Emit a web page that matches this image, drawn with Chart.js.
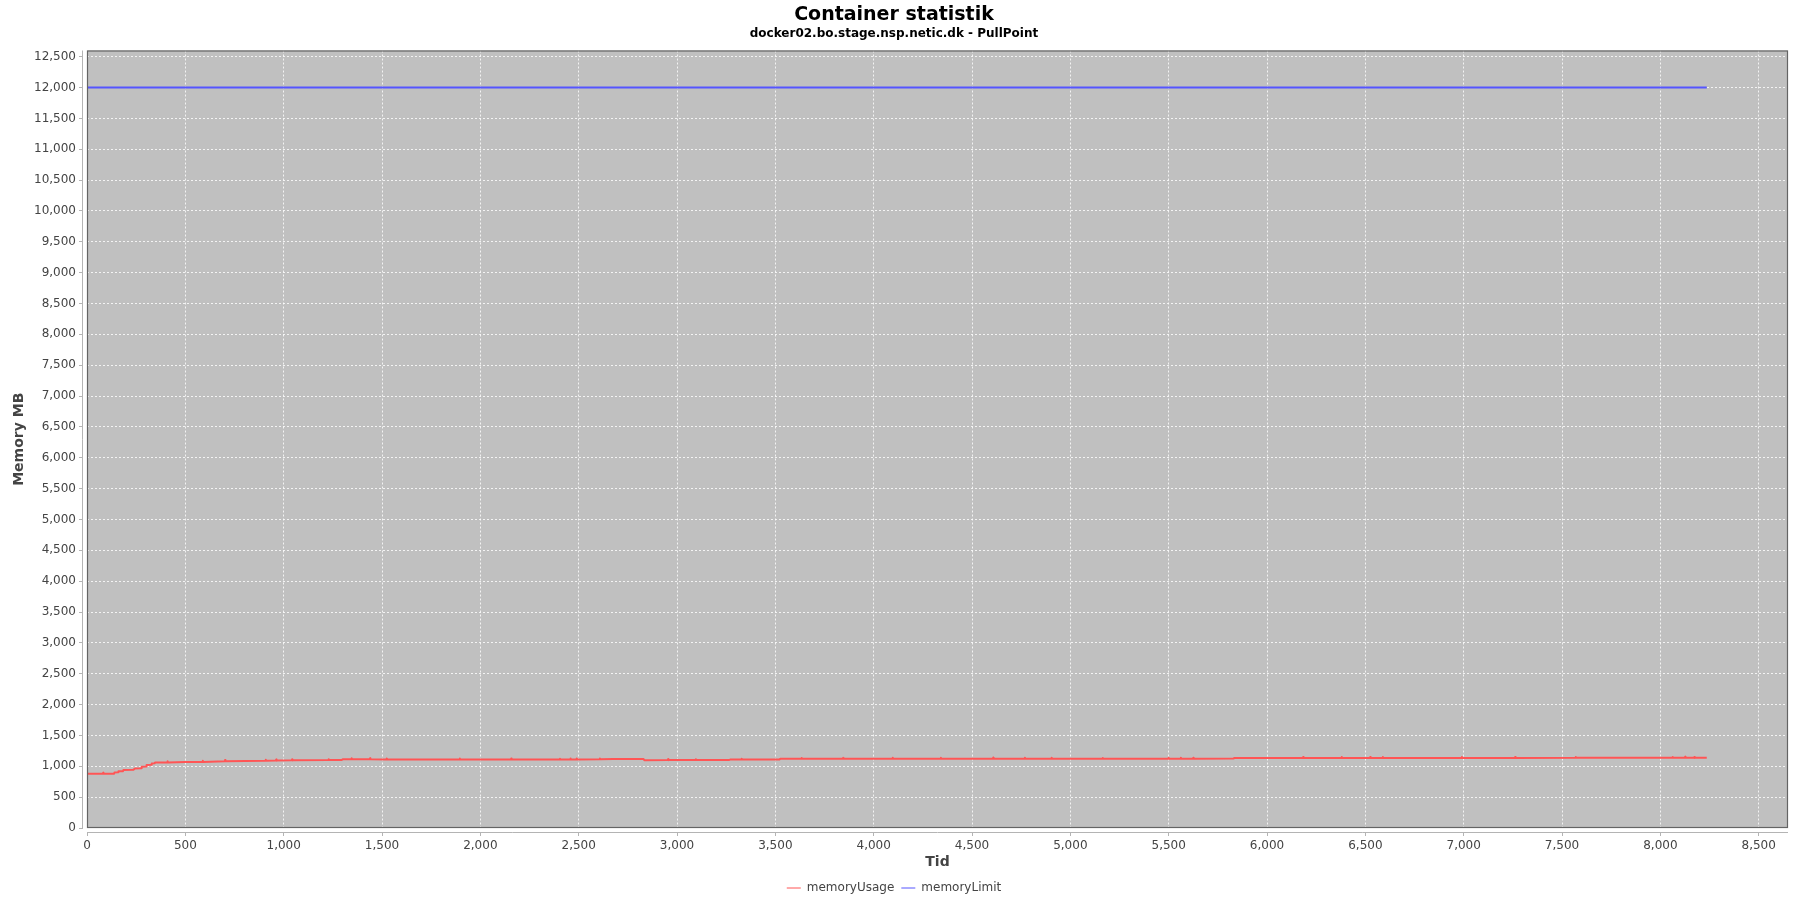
<!DOCTYPE html>
<html>
<head>
<meta charset="utf-8">
<script src="https://cdn.jsdelivr.net/npm/chart.js@4.4.1/dist/chart.umd.min.js"></script>
<style>
  html, body { margin: 0; padding: 0; background: #ffffff; }
  #wrap { width: 1800px; height: 900px; }
</style>
</head>
<body>
<div id="wrap"><canvas id="c" width="1800" height="900"></canvas></div>
<script>
// ---- data ----
const chartTitle = 'Container statistik';
const chartSubtitle = 'docker02.bo.stage.nsp.netic.dk - PullPoint';
const xTitle = 'Tid';
const yTitle = 'Memory MB';
const seriesNames = ['memoryUsage', 'memoryLimit'];

const usageTid = [
  0, 80, 82, 84, 137, 140, 158, 160, 183, 185, 235, 244, 276, 278, 300, 303, 327, 329, 344, 346,
  408, 410, 412, 500, 587, 589, 591, 700, 702, 704, 906, 908, 910, 960, 962, 964, 1041, 1043, 1045,
  1226, 1228, 1230, 1295, 1300, 1344, 1346, 1348, 1437, 1439, 1441, 1522, 1524, 1526,
  1894, 1896, 1898, 2155, 2157, 2159, 2403, 2405, 2407, 2456, 2458, 2460, 2488, 2490, 2492,
  2606, 2608, 2610, 2676, 2829, 2834, 2953, 2955, 2957, 3094, 3096, 3098, 3266, 3270,
  3326, 3328, 3330, 3521, 3525, 3631, 3633, 3635, 3843, 3845, 3847, 4094, 4096, 4098,
  4340, 4342, 4344, 4606, 4608, 4610, 4767, 4769, 4771, 4903, 4905, 4907, 5049,
  5163, 5165, 5167, 5498, 5500, 5502, 5560, 5562, 5564, 5623, 5625, 5627, 5829, 5835,
  6182, 6184, 6186, 6378, 6380, 6382, 6523, 6525, 6527, 6587, 6589, 6591, 6989, 6991, 6993,
  7260, 7262, 7264, 7568, 7570, 7572, 8061, 8063, 8065, 8124, 8126, 8128, 8171, 8173, 8175, 8236
];
const memoryUsage = [
  880, 880, 895, 880, 880, 900, 905, 918, 920, 940, 942, 965, 968, 992, 995, 1020, 1025, 1045, 1048, 1060,
  1062, 1080, 1063, 1068, 1070, 1088, 1071, 1082, 1100, 1083, 1090, 1108, 1090, 1092, 1110, 1092, 1096, 1112, 1096,
  1100, 1115, 1100, 1102, 1113, 1113, 1130, 1113, 1113, 1130, 1113, 1112, 1128, 1112,
  1110, 1126, 1110, 1110, 1125, 1110, 1110, 1124, 1110, 1110, 1128, 1112, 1112, 1128, 1112,
  1113, 1126, 1113, 1117, 1118, 1099, 1100, 1116, 1100, 1100, 1115, 1100, 1102, 1110,
  1110, 1124, 1110, 1112, 1121, 1121, 1134, 1121, 1122, 1136, 1122, 1123, 1138, 1123,
  1123, 1138, 1123, 1124, 1140, 1124, 1124, 1138, 1124, 1124, 1138, 1124, 1122,
  1121, 1136, 1121, 1122, 1138, 1122, 1122, 1140, 1122, 1123, 1138, 1123, 1126, 1134,
  1136, 1150, 1136, 1136, 1152, 1136, 1136, 1152, 1136, 1136, 1150, 1136, 1136, 1150, 1136,
  1136, 1152, 1136, 1137, 1152, 1137, 1137, 1150, 1137, 1137, 1154, 1137, 1137, 1150, 1137, 1137
];
const limitTid = [0, 8236];
const memoryLimit = [12000, 12000];

const xTickValues = [0, 500, 1000, 1500, 2000, 2500, 3000, 3500, 4000, 4500, 5000, 5500, 6000, 6500, 7000, 7500, 8000, 8500];
const yTickValues = [0, 500, 1000, 1500, 2000, 2500, 3000, 3500, 4000, 4500, 5000, 5500, 6000, 6500,
                     7000, 7500, 8000, 8500, 9000, 9500, 10000, 10500, 11000, 11500, 12000, 12500];
const xMin = 0, xMax = 8649;
const yMin = 0, yMax = 12600;

// ---- chart ----
const FONT = "'DejaVu Sans', 'Liberation Sans', sans-serif";

const plotDecor = {
  id: 'plotDecor',
  beforeDraw(chart) {
    const {ctx, chartArea: a} = chart;
    ctx.save();
    ctx.fillStyle = '#c0c0c0';
    ctx.fillRect(a.left, a.top, a.right - a.left, a.bottom - a.top);
    ctx.restore();
  },
  afterDraw(chart) {
    const {ctx, chartArea: a} = chart;
    ctx.save();
    ctx.fillStyle = '#ffffff';
    ctx.fillRect(a.left - 4, a.top, 4, a.bottom - a.top + 5);
    ctx.fillRect(a.left - 4, a.bottom, a.right - a.left + 4, 4);
    ctx.strokeStyle = '#b4b4b4';
    ctx.lineWidth = 1;
    ctx.beginPath();
    ctx.moveTo(a.left - 4.5, a.top);
    ctx.lineTo(a.left - 4.5, a.bottom);
    ctx.moveTo(a.left, a.bottom + 4.5);
    ctx.lineTo(a.right, a.bottom + 4.5);
    ctx.stroke();
    ctx.strokeStyle = '#646464';
    ctx.lineWidth = 1.2;
    ctx.strokeRect(a.left + 0.5, a.top + 0.5, a.right - a.left - 1, a.bottom - a.top - 1);
    ctx.restore();
  }
};

const usageData = usageTid.map((t, i) => ({x: t, y: memoryUsage[i]}));
const limitData = limitTid.map((t, i) => ({x: t, y: memoryLimit[i]}));

new Chart(document.getElementById('c'), {
  type: 'line',
  data: {
    datasets: [
      { label: seriesNames[0], data: usageData, borderColor: '#ff5555', backgroundColor: '#ff5555',
        borderWidth: 2, borderJoinStyle: 'round', pointRadius: 0, tension: 0, fill: false },
      { label: seriesNames[1], data: limitData, borderColor: '#5555ff', backgroundColor: '#5555ff',
        borderWidth: 2, pointRadius: 0, tension: 0, fill: false }
    ]
  },
  plugins: [plotDecor],
  options: {
    responsive: false,
    animation: false,
    devicePixelRatio: 1,
    layout: { padding: { top: 0, left: 0, right: 12, bottom: -4 } },
    plugins: {
      title: {
        display: true, text: chartTitle, color: '#000000',
        font: { family: FONT, size: 19, weight: 'bold', lineHeight: 1.2 },
        padding: { top: 3.3, bottom: 0 }
      },
      subtitle: {
        display: true, text: chartSubtitle, color: '#000000',
        font: { family: FONT, size: 12, weight: 'bold', lineHeight: 1.2 },
        padding: { top: 1, bottom: 9 }
      },
      legend: {
        display: true, position: 'bottom',
        labels: {
          usePointStyle: true, pointStyle: 'line', pointStyleWidth: 14, boxHeight: 12,
          padding: 7, color: '#444444',
          font: { family: FONT, size: 12 },
          generateLabels(chart) {
            const items = Chart.defaults.plugins.legend.labels.generateLabels(chart);
            items.forEach(it => { it.lineWidth = 1; it.pointStyle = 'line'; });
            return items;
          }
        }
      },
      tooltip: { enabled: false }
    },
    scales: {
      x: {
        type: 'linear', min: xMin, max: xMax,
        afterFit(scale) { scale.height = 47; },
        afterBuildTicks(scale) { scale.ticks = xTickValues.map(v => ({value: v})); },
        ticks: { color: '#444444', padding: 3, maxRotation: 0, autoSkip: false,
                 font: { family: FONT, size: 12 } },
        grid: { color: 'rgba(255,255,255,0.8)', lineWidth: 1, tickColor: '#b4b4b4', tickLength: 8,
                borderDash: [2, 2] },
        border: { display: false, dash: [2, 2] },
        title: { display: true, text: xTitle, color: '#444444',
                 font: { family: FONT, size: 14, weight: 'bold', lineHeight: 1.2 },
                 padding: { top: 0, bottom: 4.6 } }
      },
      y: {
        type: 'linear', min: yMin, max: yMax,
        afterFit(scale) { scale.width = 87; },
        afterBuildTicks(scale) { scale.ticks = yTickValues.map(v => ({value: v})); },
        ticks: { color: '#444444', padding: 3, autoSkip: false,
                 font: { family: FONT, size: 12 } },
        grid: { color: 'rgba(255,255,255,0.8)', lineWidth: 1, tickColor: '#b4b4b4', tickLength: 8,
                borderDash: [2, 2] },
        border: { display: false, dash: [2, 2] },
        title: { display: true, text: yTitle, color: '#444444',
                 font: { family: FONT, size: 14, weight: 'bold', lineHeight: 1.2 },
                 padding: { top: 11, bottom: 0 } }
      }
    }
  }
});
</script>
</body>
</html>
